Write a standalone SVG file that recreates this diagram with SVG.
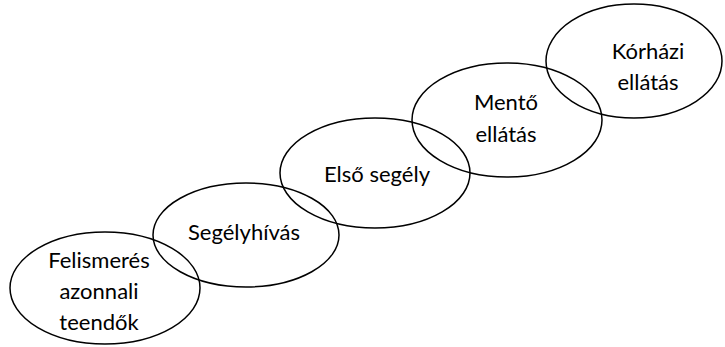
<svg xmlns="http://www.w3.org/2000/svg" width="725" height="347" viewBox="0 0 725 347">
<style>
.n{fill:none;stroke:#000;stroke-width:1.5}
.t{font-family:Lato,"Open Sans",sans-serif;font-size:22px;fill:#000;text-anchor:middle}
</style>
<rect width="725" height="347" fill="#fff"/>
<g id="n1"><ellipse class="n" cx="105" cy="288" rx="95" ry="56"/>
<text class="t" x="99" y="268">Felismerés</text><text class="t" x="99" y="299">azonnali</text><text class="t" x="99" y="330">teendők</text></g>
<g id="n2"><ellipse class="n" cx="246" cy="235" rx="93" ry="52"/>
<text class="t" x="244" y="240">Segélyhívás</text></g>
<g id="n3"><ellipse class="n" cx="375" cy="173" rx="95" ry="55"/>
<text class="t" x="377" y="182">Első segély</text></g>
<g id="n4"><ellipse class="n" cx="507" cy="120" rx="95" ry="57"/>
<text class="t" x="506" y="110">Mentő</text><text class="t" x="506" y="142">ellátás</text></g>
<g id="n5"><ellipse class="n" cx="634" cy="61" rx="88" ry="57"/>
<text class="t" x="648" y="59">Kórházi</text><text class="t" x="648" y="90">ellátás</text></g>
<g id="connectors"></g>
</svg>
